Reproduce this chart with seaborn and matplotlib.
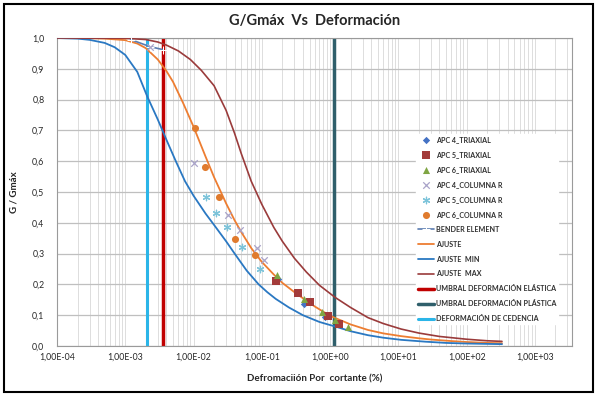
import matplotlib
matplotlib.use('Agg')
import matplotlib.pyplot as plt
import matplotlib.ticker as mticker
from matplotlib.patches import Rectangle
import seaborn as sns

# ---- data ----
# triaxial tests
apc4_tri_x = [0.170, 0.41, 0.844]
apc4_tri_y = [0.218, 0.136, 0.093]
apc5_tri_x = [0.161, 0.335, 0.513, 0.925, 1.37]
apc5_tri_y = [0.211, 0.171, 0.144, 0.097, 0.071]
apc6_tri_x = [0.166, 0.419, 0.762, 1.19, 1.82]
apc6_tri_y = [0.231, 0.152, 0.109, 0.084, 0.061]
# resonant column tests
apc4_col_x = [2.3e-3, 1.03e-2, 3.19e-2, 4.8e-2, 8.6e-2, 0.108]
apc4_col_y = [0.972, 0.593, 0.425, 0.377, 0.317, 0.279]
apc5_col_x = [1.5e-2, 2.11e-2, 3.06e-2, 5.2e-2, 9.44e-2]
apc5_col_y = [0.485, 0.433, 0.385, 0.320, 0.249]
apc6_col_x = [1.04e-2, 1.45e-2, 2.36e-2, 4.05e-2, 7.96e-2]
apc6_col_y = [0.707, 0.582, 0.483, 0.346, 0.295]
# bender element
bender_x = [1.2e-3, 2.3e-3, 3.6e-3]
bender_y = [0.995, 0.972, 0.962]

# fitted curves
ajuste_x = [1e-4, 2e-4, 5e-4, 1e-3, 1.5e-3, 2e-3, 3e-3, 4e-3, 5e-3, 7e-3, 1e-2, 1.5e-2, 2e-2,
            3e-2, 4e-2, 5e-2, 7e-2, 0.1, 0.15, 0.2, 0.3, 0.4, 0.6, 1.0, 2.0, 3.6, 6.0, 11,
            20, 30, 60, 100, 200, 330]
ajuste_y = [1.000, 1.000, 0.998, 0.993, 0.982, 0.967, 0.93, 0.893, 0.858, 0.79, 0.712, 0.615, 0.548,
            0.463, 0.408, 0.37, 0.318, 0.273, 0.232, 0.205, 0.175, 0.155, 0.128, 0.098, 0.07, 0.052,
            0.041, 0.032, 0.025, 0.021, 0.016, 0.013, 0.010, 0.009]
min_x = [1e-4, 2e-4, 3e-4, 5e-4, 7e-4, 1e-3, 1.5e-3, 2.1e-3, 3e-3, 4e-3, 5.5e-3, 7.5e-3, 1e-2,
         1.5e-2, 2e-2, 3e-2, 4e-2, 6e-2, 9e-2, 0.12, 0.16, 0.25, 0.4, 0.7, 1.2, 2.0, 3.6, 6.0,
         11, 25, 50, 100, 330]
min_y = [1.000, 0.998, 0.994, 0.984, 0.97, 0.945, 0.89, 0.81, 0.735, 0.67, 0.60, 0.535, 0.488,
         0.43, 0.393, 0.34, 0.30, 0.245, 0.20, 0.175, 0.153, 0.125, 0.10, 0.078, 0.063, 0.048,
         0.035, 0.027, 0.020, 0.014, 0.010, 0.008, 0.006]
max_x = [1e-4, 1e-3, 2e-3, 3e-3, 4e-3, 6e-3, 9e-3, 1.3e-2, 2e-2, 3e-2, 4e-2, 5e-2, 7e-2, 0.1,
         0.15, 0.2, 0.3, 0.45, 0.7, 1.2, 2.0, 3.6, 6.0, 11, 20, 40, 100, 200, 330]
max_y = [1.000, 0.999, 0.995, 0.987, 0.977, 0.958, 0.93, 0.895, 0.845, 0.765, 0.69, 0.625, 0.535,
         0.46, 0.385, 0.34, 0.285, 0.24, 0.197, 0.157, 0.125, 0.092, 0.073, 0.055, 0.042, 0.031,
         0.022, 0.017, 0.015]

# threshold lines (strain %)
umbral_elastica = 3.6e-3
umbral_plastica = 1.15
cedencia = 2.1e-3

xticks = [1e-4, 1e-3, 1e-2, 1e-1, 1e0, 1e1, 1e2, 1e3]
yticks = [0.0, 0.1, 0.2, 0.3, 0.4, 0.5, 0.6, 0.7, 0.8, 0.9, 1.0]

sns.set_style('white')
plt.rcParams['font.family'] = ['Lato', 'DejaVu Sans']

fig, ax = plt.subplots(figsize=(5.97, 3.96), dpi=100)
fig.subplots_adjust(left=57 / 597, right=572 / 597, top=1 - 38 / 396, bottom=1 - 346 / 396)
ax.set_xscale('log')

# scatter series
sns.scatterplot(x=apc4_tri_x, y=apc4_tri_y, marker='D', color='#4472C4', s=14, linewidth=0,
                ax=ax, label='APC 4_TRIAXIAL', zorder=5)
sns.scatterplot(x=apc5_tri_x, y=apc5_tri_y, marker='s', color='#A33B3A', s=26, linewidth=0,
                ax=ax, label='APC 5_TRIAXIAL', zorder=5)
sns.scatterplot(x=apc6_tri_x, y=apc6_tri_y, marker='^', color='#7FA543', s=26, linewidth=0,
                ax=ax, label='APC 6_TRIAXIAL', zorder=5)
sns.scatterplot(x=apc4_col_x, y=apc4_col_y, marker='x', color='#A9A3C9', s=22, linewidth=0.9,
                ax=ax, label='APC 4_COLUMNA R', zorder=5)
sns.scatterplot(x=apc5_col_x, y=apc5_col_y, marker=(6, 2, 0), color='#7DC4DA', s=22, linewidth=0.9,
                ax=ax, label='APC 5_COLUMNA R', zorder=5)
sns.scatterplot(x=apc6_col_x, y=apc6_col_y, marker='o', color='#E07B2E', s=26, linewidth=0,
                ax=ax, label='APC 6_COLUMNA R', zorder=5)

# line series
sns.lineplot(x=bender_x, y=bender_y, color='#5B7DB1', marker='+', markersize=6, lw=1.2,
             ax=ax, label='BENDER ELEMENT', zorder=4)
sns.lineplot(x=ajuste_x, y=ajuste_y, color='#ED7D31', lw=1.3, ax=ax, label='AJUSTE', zorder=3)
sns.lineplot(x=min_x, y=min_y, color='#2A78C2', lw=1.3, ax=ax, label='AJUSTE  MIN', zorder=3)
sns.lineplot(x=max_x, y=max_y, color='#9A3B3B', lw=1.2, ax=ax, label='AJUSTE  MAX', zorder=3)

ax.axvline(umbral_elastica, color='#C00000', lw=2.5, label='UMBRAL DEFORMACIÓN ELÁSTICA', zorder=2)
ax.axvline(umbral_plastica, color='#2F5F6B', lw=2.5, label='UMBRAL DEFORMACIÓN PLÁSTICA', zorder=2)
ax.axvline(cedencia, color='#2BB5E8', lw=2.2, label='DEFORMACIÓN DE CEDENCIA', zorder=2)

ax.set_xlim(1e-4, 3.5e3)
ax.set_ylim(0, 1.0)
ax.set_xticks(xticks)
ax.set_yticks(yticks)
ax.xaxis.set_major_formatter(mticker.FuncFormatter(lambda v, p: f'{v:.2E}'.replace('.', ',')))
ax.yaxis.set_major_formatter(mticker.FuncFormatter(lambda v, p: f'{v:.1f}'.replace('.', ',')))
ax.xaxis.set_minor_locator(mticker.LogLocator(base=10, subs=range(2, 10), numticks=20))
ax.xaxis.set_minor_formatter(mticker.NullFormatter())
ax.tick_params(axis='x', which='both', length=0, labelsize=6.3, pad=5)
ax.tick_params(axis='y', length=3, color='#868686', labelsize=6.3, pad=6)

ax.grid(True, axis='y', color='#BFBFBF', lw=0.9)
ax.grid(True, axis='x', which='both', color='#DDDDDD', lw=0.7)
ax.set_axisbelow(True)
for sp in ax.spines.values():
    sp.set_color('#9A9A9A')
    sp.set_linewidth(0.8)

ax.set_title('G/Gmáx  Vs  Deformación', fontsize=10.5, fontweight='bold', pad=9)
ax.set_xlabel('Defromaciión Por  cortante (%)', fontsize=7, fontweight='bold', labelpad=9)
ax.set_ylabel('G / Gmáx', fontsize=7, fontweight='bold', labelpad=10)

leg = ax.legend(loc='upper left', bbox_to_anchor=(0.69, 0.70), frameon=True, framealpha=1,
                edgecolor='white', facecolor='white', fancybox=False,
                prop={'size': 5.1, 'weight': 'bold'}, labelspacing=1.12, handlelength=2.3,
                handletextpad=0.2, borderpad=0.3)
for t in leg.get_texts():
    t.set_color('#303030')

fig.add_artist(Rectangle((4 / 597, 4 / 396), 589 / 597, 388 / 396, transform=fig.transFigure,
                         fill=False, edgecolor='black', lw=1.5))

fig.savefig('out.png', dpi=100)
